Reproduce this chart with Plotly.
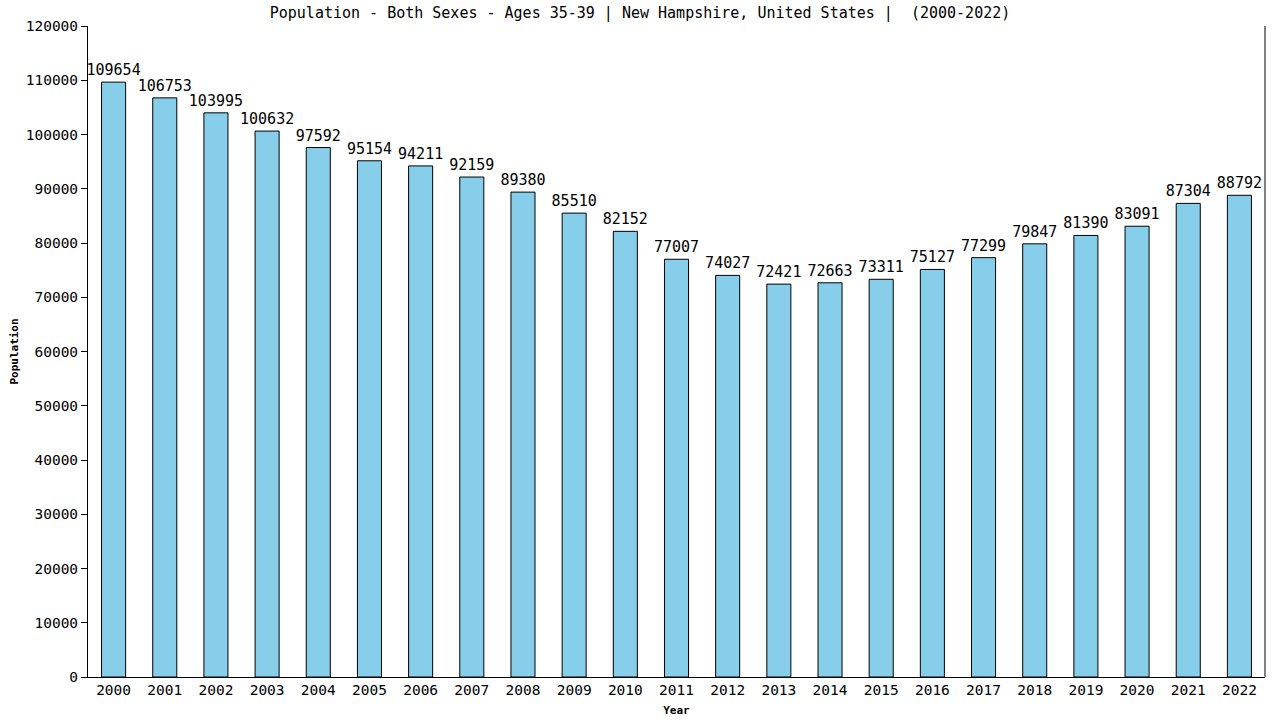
import plotly.graph_objects as go

years = [str(y) for y in range(2000, 2023)]
population = [109654, 106753, 103995, 100632, 97592, 95154, 94211, 92159, 89380, 85510,
              82152, 77007, 74027, 72421, 72663, 73311, 75127, 77299, 79847, 81390,
              83091, 87304, 88792]
y_ticks = list(range(0, 120001, 10000))

font_mono = "DejaVu Sans Mono"

fig = go.Figure()
fig.add_trace(go.Bar(
    x=years, y=population,
    marker=dict(color="#87CEEB", line=dict(color="black", width=1)),
    text=[str(v) for v in population], textposition="outside",
    textfont=dict(family=font_mono, size=15, color="black"),
    constraintext="none",
    cliponaxis=False, width=0.47,
))

fig.update_layout(
    width=1280, height=720,
    margin=dict(l=88, r=15, t=26, b=43),
    plot_bgcolor="white", paper_bgcolor="white",
    showlegend=False,
    title=dict(text="Population - Both Sexes - Ages 35-39 | New Hampshire, United States |  (2000-2022)",
               x=0.5, xanchor="center", y=0.982, yanchor="middle",
               font=dict(family=font_mono, size=15, color="black")),
    xaxis=dict(showline=True, linecolor="black", linewidth=1, ticks="", automargin=False,
               tickfont=dict(family=font_mono, size=14.5, color="black"),
               title=dict(text="<b>Year</b>", font=dict(family=font_mono, size=11, color="black"), standoff=8),
               showgrid=False),
    yaxis=dict(range=[0, 120000], tickvals=y_ticks, tickformat="d", showline=True, linecolor="black", linewidth=1,
               ticks="outside", ticklen=6, tickcolor="black", automargin=False,
               tickfont=dict(family=font_mono, size=14.5, color="black"),
               title=dict(text="<b>Population</b>", font=dict(family=font_mono, size=11, color="black"), standoff=4),
               showgrid=False, zeroline=False),
    bargap=0.53,
)
fig.add_shape(type="line", xref="paper", yref="paper", x0=1, x1=1, y0=0, y1=1,
              line=dict(color="black", width=1))

fig.write_html("out.html")
